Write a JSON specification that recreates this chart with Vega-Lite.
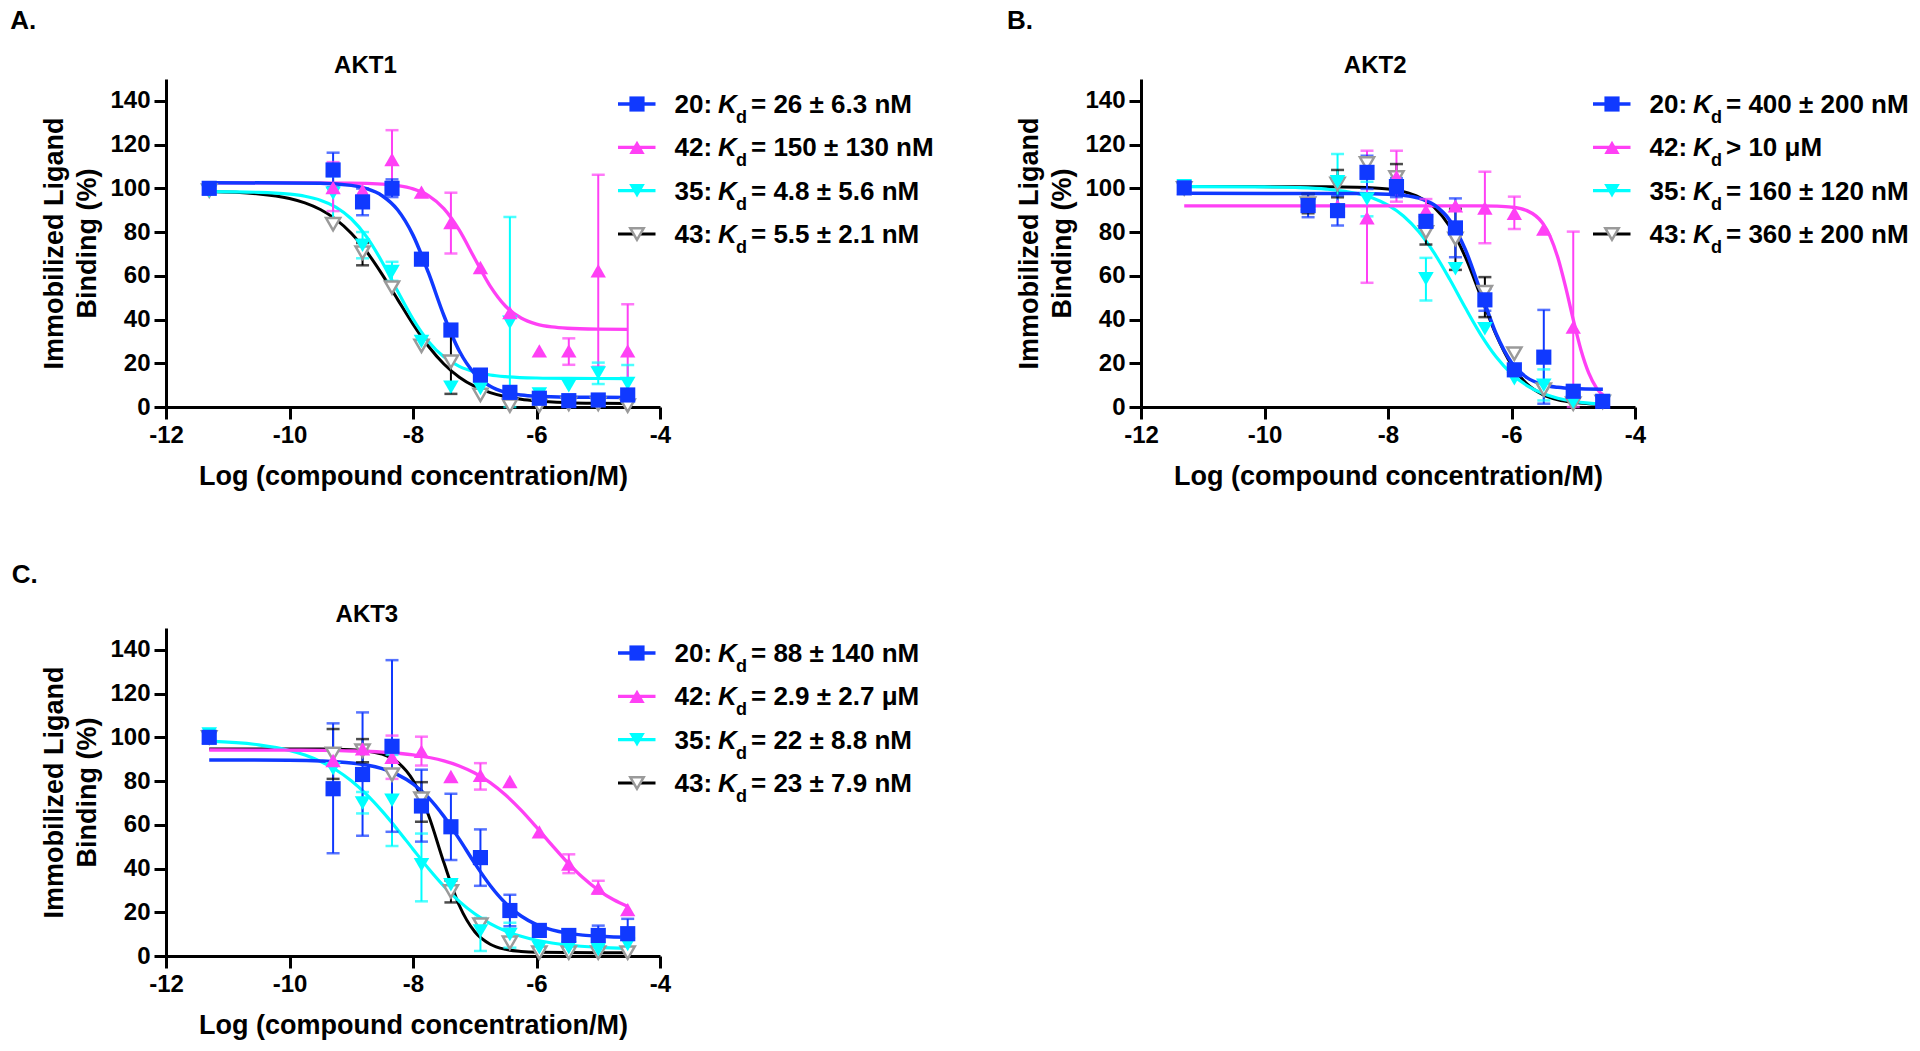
{
"$schema": "https://vega.github.io/schema/vega-lite/v6.json",
"background": "white",
"padding": {"left": 10, "top": 8, "right": 5, "bottom": 5},
"config": {
  "view": {"stroke": null},
  "axis": {"domainColor": "black", "domainWidth": 3, "tickColor": "black", "tickWidth": 3, "tickSize": 12, "labelFont": "Liberation Sans", "labelFontSize": 24, "labelFontWeight": "bold", "labelColor": "black", "labelPadding": 4, "labelFlush": false, "labelOverlap": false, "titleFont": "Liberation Sans", "titleFontSize": 27, "titleFontWeight": "bold", "titleColor": "black", "grid": false},
  "text": {"font": "Liberation Sans", "fontWeight": "bold", "color": "black"}
},
"datasets": {
"pts": [
{"p":"A","c":"43","x":-11.3,"y":99},{"p":"A","c":"43","x":-9.294,"y":83.6},{"p":"A","c":"43","x":-8.817,"y":70.6,"lo":64.8,"hi":75},{"p":"A","c":"43","x":-8.34,"y":54.6},{"p":"A","c":"43","x":-7.863,"y":28},{"p":"A","c":"43","x":-7.386,"y":20.7,"lo":6,"hi":33},{"p":"A","c":"43","x":-6.908,"y":5.5},{"p":"A","c":"43","x":-6.431,"y":0.6},{"p":"A","c":"43","x":-5.954,"y":0.6},{"p":"A","c":"43","x":-5.477,"y":1.4},{"p":"A","c":"43","x":-5.0,"y":1.4},{"p":"A","c":"43","x":-4.523,"y":0.6},
{"p":"A","c":"35","x":-11.3,"y":98.8},{"p":"A","c":"35","x":-9.294,"y":97.7,"lo":86.1,"hi":105.6},{"p":"A","c":"35","x":-8.817,"y":74,"lo":68,"hi":80},{"p":"A","c":"35","x":-8.34,"y":62,"lo":57.7,"hi":66.4},{"p":"A","c":"35","x":-7.863,"y":30},{"p":"A","c":"35","x":-7.386,"y":9},{"p":"A","c":"35","x":-6.908,"y":8.5},{"p":"A","c":"35","x":-6.431,"y":38.7,"lo":0,"hi":86.9},{"p":"A","c":"35","x":-5.954,"y":5.9},{"p":"A","c":"35","x":-5.477,"y":9.7},{"p":"A","c":"35","x":-5.0,"y":15.5,"lo":10.5,"hi":20.3},{"p":"A","c":"35","x":-4.523,"y":10.7,"lo":2.1,"hi":19.2},
{"p":"A","c":"42","x":-11.3,"y":100},{"p":"A","c":"42","x":-9.294,"y":100.3,"lo":89.6,"hi":112},{"p":"A","c":"42","x":-8.817,"y":99},{"p":"A","c":"42","x":-8.34,"y":113.2,"lo":99.8,"hi":126.6},{"p":"A","c":"42","x":-7.863,"y":98.3},{"p":"A","c":"42","x":-7.386,"y":84.3,"lo":70.2,"hi":98},{"p":"A","c":"42","x":-6.908,"y":63.8},{"p":"A","c":"42","x":-6.431,"y":43.2},{"p":"A","c":"42","x":-5.954,"y":25.7},{"p":"A","c":"42","x":-5.477,"y":25.7,"lo":19.3,"hi":31.4},{"p":"A","c":"42","x":-5.0,"y":62.3,"lo":18.4,"hi":106.2},{"p":"A","c":"42","x":-4.523,"y":25.7,"lo":4.4,"hi":47},
{"p":"A","c":"20","x":-11.3,"y":100},{"p":"A","c":"20","x":-9.294,"y":108.4,"lo":100.5,"hi":116.3},{"p":"A","c":"20","x":-8.817,"y":93.8,"lo":87.7,"hi":99.9},{"p":"A","c":"20","x":-8.34,"y":100,"lo":96,"hi":104.1},{"p":"A","c":"20","x":-7.863,"y":67.6},{"p":"A","c":"20","x":-7.386,"y":35.2},{"p":"A","c":"20","x":-6.908,"y":14.6},{"p":"A","c":"20","x":-6.431,"y":6.7},{"p":"A","c":"20","x":-5.954,"y":4.0},{"p":"A","c":"20","x":-5.477,"y":2.9},{"p":"A","c":"20","x":-5.0,"y":3.2},{"p":"A","c":"20","x":-4.523,"y":5.5},
{"p":"B","c":"43","x":-11.3,"y":100},{"p":"B","c":"43","x":-9.294,"y":93,"lo":88.6,"hi":97.4},{"p":"B","c":"43","x":-8.817,"y":102,"lo":95.9,"hi":108.4},{"p":"B","c":"43","x":-8.34,"y":111.4},{"p":"B","c":"43","x":-7.863,"y":105,"lo":98.9,"hi":111.1},{"p":"B","c":"43","x":-7.386,"y":79.9,"lo":74.3,"hi":85.5},{"p":"B","c":"43","x":-6.908,"y":76.9,"lo":62.7,"hi":90.6},{"p":"B","c":"43","x":-6.431,"y":52.5,"lo":41.1,"hi":59.4},{"p":"B","c":"43","x":-5.954,"y":24.4},{"p":"B","c":"43","x":-5.477,"y":8},{"p":"B","c":"43","x":-5.0,"y":1.5},{"p":"B","c":"43","x":-4.523,"y":2.3},
{"p":"B","c":"35","x":-11.3,"y":101.2},{"p":"B","c":"35","x":-9.294,"y":92},{"p":"B","c":"35","x":-8.817,"y":103,"lo":90.6,"hi":115.7},{"p":"B","c":"35","x":-8.34,"y":95.1,"lo":87.2,"hi":103},{"p":"B","c":"35","x":-7.863,"y":101},{"p":"B","c":"35","x":-7.386,"y":58.6,"lo":48.7,"hi":68.2},{"p":"B","c":"35","x":-6.908,"y":63.2},{"p":"B","c":"35","x":-6.431,"y":35.8},{"p":"B","c":"35","x":-5.954,"y":12.9},{"p":"B","c":"35","x":-5.477,"y":10,"lo":3,"hi":17.2},{"p":"B","c":"35","x":-5.0,"y":2.3},{"p":"B","c":"35","x":-4.523,"y":2.3},
{"p":"B","c":"42","x":-11.3,"y":100},{"p":"B","c":"42","x":-9.294,"y":93},{"p":"B","c":"42","x":-8.817,"y":92},{"p":"B","c":"42","x":-8.34,"y":86.5,"lo":56.8,"hi":117.2},{"p":"B","c":"42","x":-7.863,"y":105.3,"lo":93.9,"hi":117.2},{"p":"B","c":"42","x":-7.386,"y":89.8,"lo":85,"hi":95.1},{"p":"B","c":"42","x":-6.908,"y":92},{"p":"B","c":"42","x":-6.431,"y":91,"lo":74.9,"hi":107.6},{"p":"B","c":"42","x":-5.954,"y":88.6,"lo":81.4,"hi":96.2},{"p":"B","c":"42","x":-5.477,"y":81.4},{"p":"B","c":"42","x":-5.0,"y":36.5,"lo":0,"hi":80.2},{"p":"B","c":"42","x":-4.523,"y":3.8},
{"p":"B","c":"20","x":-11.3,"y":100.2},{"p":"B","c":"20","x":-9.294,"y":92.1,"lo":86.8,"hi":97.4},{"p":"B","c":"20","x":-8.817,"y":89.8,"lo":83,"hi":96.7},{"p":"B","c":"20","x":-8.34,"y":107.3,"lo":99.7,"hi":114.9},{"p":"B","c":"20","x":-7.863,"y":100.8,"lo":96,"hi":104.7},{"p":"B","c":"20","x":-7.386,"y":84.9},{"p":"B","c":"20","x":-6.908,"y":81.9,"lo":68.5,"hi":95.4},{"p":"B","c":"20","x":-6.431,"y":49,"lo":44,"hi":54},{"p":"B","c":"20","x":-5.954,"y":17},{"p":"B","c":"20","x":-5.477,"y":22.8,"lo":1.5,"hi":44.4},{"p":"B","c":"20","x":-5.0,"y":7.2},{"p":"B","c":"20","x":-4.523,"y":2.6},
{"p":"C","c":"43","x":-11.3,"y":100},{"p":"C","c":"43","x":-9.294,"y":92.4,"lo":81,"hi":103.8},{"p":"C","c":"43","x":-8.817,"y":93.9,"lo":88.6,"hi":99.2},{"p":"C","c":"43","x":-8.34,"y":83},{"p":"C","c":"43","x":-7.863,"y":72,"lo":61.4,"hi":79.5},{"p":"C","c":"43","x":-7.386,"y":29.5,"lo":24.5,"hi":34.5},{"p":"C","c":"43","x":-6.908,"y":14.4},{"p":"C","c":"43","x":-6.431,"y":6.1},{"p":"C","c":"43","x":-5.954,"y":1.5},{"p":"C","c":"43","x":-5.477,"y":1.5},{"p":"C","c":"43","x":-5.0,"y":1.5},{"p":"C","c":"43","x":-4.523,"y":1.5},
{"p":"C","c":"35","x":-11.3,"y":101.5},{"p":"C","c":"35","x":-9.294,"y":85.6},{"p":"C","c":"35","x":-8.817,"y":70,"lo":65.2,"hi":75},{"p":"C","c":"35","x":-8.34,"y":71.2,"lo":50.3,"hi":92},{"p":"C","c":"35","x":-7.863,"y":41.7,"lo":25,"hi":56},{"p":"C","c":"35","x":-7.386,"y":32.6},{"p":"C","c":"35","x":-6.908,"y":11.4,"lo":2.3,"hi":17.4},{"p":"C","c":"35","x":-6.431,"y":9.8,"lo":3.8,"hi":15.2},{"p":"C","c":"35","x":-5.954,"y":3.8},{"p":"C","c":"35","x":-5.477,"y":3.8},{"p":"C","c":"35","x":-5.0,"y":3},{"p":"C","c":"35","x":-4.523,"y":5.3},
{"p":"C","c":"42","x":-11.3,"y":100},{"p":"C","c":"42","x":-9.294,"y":89.4},{"p":"C","c":"42","x":-8.817,"y":94.7},{"p":"C","c":"42","x":-8.34,"y":90.9,"lo":81,"hi":100.8},{"p":"C","c":"42","x":-7.863,"y":93.6,"lo":87.1,"hi":100.3},{"p":"C","c":"42","x":-7.386,"y":82.1},{"p":"C","c":"42","x":-6.908,"y":82.6,"lo":76.1,"hi":88.2},{"p":"C","c":"42","x":-6.431,"y":79.8},{"p":"C","c":"42","x":-5.954,"y":56.8},{"p":"C","c":"42","x":-5.477,"y":42,"lo":37.9,"hi":46.5},{"p":"C","c":"42","x":-5.0,"y":31,"lo":28.5,"hi":34.4},{"p":"C","c":"42","x":-4.523,"y":21.2},
{"p":"C","c":"20","x":-11.3,"y":100},{"p":"C","c":"20","x":-9.294,"y":76.5,"lo":47,"hi":106.4},{"p":"C","c":"20","x":-8.817,"y":83,"lo":55,"hi":111.4},{"p":"C","c":"20","x":-8.34,"y":95.9,"lo":56.8,"hi":135.3},{"p":"C","c":"20","x":-7.863,"y":68.6,"lo":52.3,"hi":85.2},{"p":"C","c":"20","x":-7.386,"y":59.1,"lo":43.9,"hi":74.2},{"p":"C","c":"20","x":-6.908,"y":45,"lo":32.1,"hi":57.9},{"p":"C","c":"20","x":-6.431,"y":20.8,"lo":13.6,"hi":28},{"p":"C","c":"20","x":-5.954,"y":11.7,"lo":9.1,"hi":14.4},{"p":"C","c":"20","x":-5.477,"y":9.4},{"p":"C","c":"20","x":-5.0,"y":9.4,"lo":5.3,"hi":13.9},{"p":"C","c":"20","x":-4.523,"y":10.2,"lo":3.8,"hi":17}
],
"fit": [
{"p":"A","c":"43","x":-11.3,"y":98.5},{"p":"A","c":"43","x":-10.5,"y":97.45},{"p":"A","c":"43","x":-10,"y":95.36},{"p":"A","c":"43","x":-9.75,"y":93.36},{"p":"A","c":"43","x":-9.5,"y":90.33},{"p":"A","c":"43","x":-9.25,"y":85.83},{"p":"A","c":"43","x":-9,"y":79.49},{"p":"A","c":"43","x":-8.75,"y":71.0},{"p":"A","c":"43","x":-8.5,"y":60.68},{"p":"A","c":"43","x":-8.25,"y":49.23},{"p":"A","c":"43","x":-8,"y":37.87},{"p":"A","c":"43","x":-7.75,"y":27.77},{"p":"A","c":"43","x":-7.5,"y":19.67},{"p":"A","c":"43","x":-7.25,"y":13.62},{"p":"A","c":"43","x":-7,"y":9.4},{"p":"A","c":"43","x":-6.75,"y":6.55},{"p":"A","c":"43","x":-6.5,"y":4.7},{"p":"A","c":"43","x":-6.25,"y":3.5},{"p":"A","c":"43","x":-6,"y":2.75},{"p":"A","c":"43","x":-5.5,"y":1.99},{"p":"A","c":"43","x":-5,"y":1.69},{"p":"A","c":"43","x":-4.52,"y":1.57},
{"p":"A","c":"35","x":-11.3,"y":98.46},{"p":"A","c":"35","x":-10.5,"y":98.18},{"p":"A","c":"35","x":-10,"y":97.36},{"p":"A","c":"35","x":-9.75,"y":96.38},{"p":"A","c":"35","x":-9.5,"y":94.59},{"p":"A","c":"35","x":-9.25,"y":91.43},{"p":"A","c":"35","x":-9,"y":86.09},{"p":"A","c":"35","x":-8.75,"y":77.77},{"p":"A","c":"35","x":-8.5,"y":66.35},{"p":"A","c":"35","x":-8.25,"y":53.05},{"p":"A","c":"35","x":-8,"y":40.25},{"p":"A","c":"35","x":-7.75,"y":30.01},{"p":"A","c":"35","x":-7.5,"y":22.96},{"p":"A","c":"35","x":-7.25,"y":18.59},{"p":"A","c":"35","x":-7,"y":16.06},{"p":"A","c":"35","x":-6.75,"y":14.65},{"p":"A","c":"35","x":-6.5,"y":13.89},{"p":"A","c":"35","x":-6,"y":13.25},{"p":"A","c":"35","x":-5.5,"y":13.07},{"p":"A","c":"35","x":-4.52,"y":13.0},
{"p":"A","c":"42","x":-11.3,"y":102.5},{"p":"A","c":"42","x":-9,"y":102.39},{"p":"A","c":"42","x":-8.5,"y":101.94},{"p":"A","c":"42","x":-8.25,"y":101.25},{"p":"A","c":"42","x":-8,"y":99.77},{"p":"A","c":"42","x":-7.75,"y":96.68},{"p":"A","c":"42","x":-7.5,"y":90.74},{"p":"A","c":"42","x":-7.25,"y":80.88},{"p":"A","c":"42","x":-7,"y":67.92},{"p":"A","c":"42","x":-6.75,"y":55.28},{"p":"A","c":"42","x":-6.5,"y":46.06},{"p":"A","c":"42","x":-6.25,"y":40.67},{"p":"A","c":"42","x":-6,"y":37.91},{"p":"A","c":"42","x":-5.75,"y":36.6},{"p":"A","c":"42","x":-5.5,"y":36.0},{"p":"A","c":"42","x":-5,"y":35.6},{"p":"A","c":"42","x":-4.52,"y":35.5},
{"p":"A","c":"20","x":-11.3,"y":102.6},{"p":"A","c":"20","x":-9.5,"y":102.35},{"p":"A","c":"20","x":-9,"y":101.35},{"p":"A","c":"20","x":-8.75,"y":99.85},{"p":"A","c":"20","x":-8.5,"y":96.64},{"p":"A","c":"20","x":-8.25,"y":90.2},{"p":"A","c":"20","x":-8,"y":78.6},{"p":"A","c":"20","x":-7.75,"y":61.4},{"p":"A","c":"20","x":-7.5,"y":41.85},{"p":"A","c":"20","x":-7.25,"y":25.6},{"p":"A","c":"20","x":-7,"y":15.16},{"p":"A","c":"20","x":-6.75,"y":9.51},{"p":"A","c":"20","x":-6.5,"y":6.76},{"p":"A","c":"20","x":-6.25,"y":5.47},{"p":"A","c":"20","x":-6,"y":4.88},{"p":"A","c":"20","x":-5.5,"y":4.5},{"p":"A","c":"20","x":-4.52,"y":4.4},
{"p":"B","c":"43","x":-11.3,"y":100.8},{"p":"B","c":"43","x":-9,"y":100.74},{"p":"B","c":"43","x":-8.5,"y":100.55},{"p":"B","c":"43","x":-8,"y":99.69},{"p":"B","c":"43","x":-7.75,"y":98.49},{"p":"B","c":"43","x":-7.5,"y":96.04},{"p":"B","c":"43","x":-7.25,"y":91.24},{"p":"B","c":"43","x":-7,"y":82.54},{"p":"B","c":"43","x":-6.75,"y":68.74},{"p":"B","c":"43","x":-6.5,"y":50.9},{"p":"B","c":"43","x":-6.25,"y":33.06},{"p":"B","c":"43","x":-6,"y":19.26},{"p":"B","c":"43","x":-5.75,"y":10.56},{"p":"B","c":"43","x":-5.5,"y":5.76},{"p":"B","c":"43","x":-5.25,"y":3.31},{"p":"B","c":"43","x":-5,"y":2.11},{"p":"B","c":"43","x":-4.75,"y":1.53},{"p":"B","c":"43","x":-4.52,"y":1.27},
{"p":"B","c":"35","x":-11.3,"y":100.79},{"p":"B","c":"35","x":-10,"y":100.65},{"p":"B","c":"35","x":-9.5,"y":100.39},{"p":"B","c":"35","x":-9,"y":99.65},{"p":"B","c":"35","x":-8.5,"y":97.62},{"p":"B","c":"35","x":-8.25,"y":95.57},{"p":"B","c":"35","x":-8,"y":92.32},{"p":"B","c":"35","x":-7.75,"y":87.35},{"p":"B","c":"35","x":-7.5,"y":80.1},{"p":"B","c":"35","x":-7.25,"y":70.32},{"p":"B","c":"35","x":-7,"y":58.38},{"p":"B","c":"35","x":-6.75,"y":45.47},{"p":"B","c":"35","x":-6.5,"y":33.23},{"p":"B","c":"35","x":-6.25,"y":22.96},{"p":"B","c":"35","x":-6,"y":15.2},{"p":"B","c":"35","x":-5.75,"y":9.81},{"p":"B","c":"35","x":-5.5,"y":6.26},{"p":"B","c":"35","x":-5.25,"y":4.01},{"p":"B","c":"35","x":-5,"y":2.62},{"p":"B","c":"35","x":-4.75,"y":1.77},{"p":"B","c":"35","x":-4.52,"y":1.29},
{"p":"B","c":"42","x":-11.3,"y":92},{"p":"B","c":"42","x":-6.5,"y":91.96},{"p":"B","c":"42","x":-6.25,"y":91.84},{"p":"B","c":"42","x":-6,"y":91.4},{"p":"B","c":"42","x":-5.75,"y":89.8},{"p":"B","c":"42","x":-5.5,"y":84.23},{"p":"B","c":"42","x":-5.375,"y":78.04},{"p":"B","c":"42","x":-5.25,"y":68.32},{"p":"B","c":"42","x":-5.125,"y":55.02},{"p":"B","c":"42","x":-5,"y":39.95},{"p":"B","c":"42","x":-4.875,"y":26.08},{"p":"B","c":"42","x":-4.75,"y":15.6},{"p":"B","c":"42","x":-4.625,"y":8.77},{"p":"B","c":"42","x":-4.52,"y":5.24},
{"p":"B","c":"20","x":-11.3,"y":97.7},{"p":"B","c":"20","x":-8.5,"y":97.64},{"p":"B","c":"20","x":-8,"y":97.34},{"p":"B","c":"20","x":-7.75,"y":96.81},{"p":"B","c":"20","x":-7.5,"y":95.5},{"p":"B","c":"20","x":-7.25,"y":92.39},{"p":"B","c":"20","x":-7,"y":85.44},{"p":"B","c":"20","x":-6.75,"y":72.19},{"p":"B","c":"20","x":-6.5,"y":52.9},{"p":"B","c":"20","x":-6.25,"y":33.61},{"p":"B","c":"20","x":-6,"y":20.36},{"p":"B","c":"20","x":-5.75,"y":13.42},{"p":"B","c":"20","x":-5.5,"y":10.3},{"p":"B","c":"20","x":-5.25,"y":8.99},{"p":"B","c":"20","x":-5,"y":8.46},{"p":"B","c":"20","x":-4.52,"y":8.15},
{"p":"C","c":"43","x":-11.3,"y":94.7},{"p":"C","c":"43","x":-9.5,"y":94.65},{"p":"C","c":"43","x":-9,"y":94.35},{"p":"C","c":"43","x":-8.75,"y":93.78},{"p":"C","c":"43","x":-8.5,"y":92.31},{"p":"C","c":"43","x":-8.25,"y":88.66},{"p":"C","c":"43","x":-8,"y":80.32},{"p":"C","c":"43","x":-7.75,"y":64.48},{"p":"C","c":"43","x":-7.5,"y":42.72},{"p":"C","c":"43","x":-7.25,"y":23.09},{"p":"C","c":"43","x":-7,"y":11.08},{"p":"C","c":"43","x":-6.75,"y":5.39},{"p":"C","c":"43","x":-6.5,"y":3.02},{"p":"C","c":"43","x":-6.25,"y":2.09},{"p":"C","c":"43","x":-6,"y":1.72},{"p":"C","c":"43","x":-5,"y":1.5},{"p":"C","c":"43","x":-4.52,"y":1.5},
{"p":"C","c":"35","x":-11.3,"y":98.25},{"p":"C","c":"35","x":-10.5,"y":96.57},{"p":"C","c":"35","x":-10,"y":94.01},{"p":"C","c":"35","x":-9.75,"y":91.92},{"p":"C","c":"35","x":-9.5,"y":89.03},{"p":"C","c":"35","x":-9.25,"y":85.17},{"p":"C","c":"35","x":-9,"y":80.12},{"p":"C","c":"35","x":-8.75,"y":73.8},{"p":"C","c":"35","x":-8.5,"y":66.25},{"p":"C","c":"35","x":-8.25,"y":57.79},{"p":"C","c":"35","x":-8,"y":48.85},{"p":"C","c":"35","x":-7.75,"y":40.05},{"p":"C","c":"35","x":-7.5,"y":31.98},{"p":"C","c":"35","x":-7.25,"y":25.01},{"p":"C","c":"35","x":-7,"y":19.31},{"p":"C","c":"35","x":-6.75,"y":14.85},{"p":"C","c":"35","x":-6.5,"y":11.47},{"p":"C","c":"35","x":-6.25,"y":8.99},{"p":"C","c":"35","x":-6,"y":7.2},{"p":"C","c":"35","x":-5.75,"y":5.94},{"p":"C","c":"35","x":-5.5,"y":5.04},{"p":"C","c":"35","x":-5,"y":3.98},{"p":"C","c":"35","x":-4.52,"y":3.48},
{"p":"C","c":"42","x":-11.3,"y":94.19},{"p":"C","c":"42","x":-10,"y":94.12},{"p":"C","c":"42","x":-9.5,"y":94.01},{"p":"C","c":"42","x":-9,"y":93.76},{"p":"C","c":"42","x":-8.5,"y":93.2},{"p":"C","c":"42","x":-8,"y":91.95},{"p":"C","c":"42","x":-7.5,"y":89.23},{"p":"C","c":"42","x":-7.25,"y":86.91},{"p":"C","c":"42","x":-7,"y":83.66},{"p":"C","c":"42","x":-6.75,"y":79.27},{"p":"C","c":"42","x":-6.5,"y":73.59},{"p":"C","c":"42","x":-6.25,"y":66.69},{"p":"C","c":"42","x":-6,"y":58.87},{"p":"C","c":"42","x":-5.75,"y":50.68},{"p":"C","c":"42","x":-5.5,"y":42.83},{"p":"C","c":"42","x":-5.25,"y":35.87},{"p":"C","c":"42","x":-5,"y":30.14},{"p":"C","c":"42","x":-4.75,"y":25.7},{"p":"C","c":"42","x":-4.52,"y":22.63},
{"p":"C","c":"20","x":-11.3,"y":89.69},{"p":"C","c":"20","x":-10,"y":89.54},{"p":"C","c":"20","x":-9.5,"y":89.23},{"p":"C","c":"20","x":-9,"y":88.3},{"p":"C","c":"20","x":-8.75,"y":87.31},{"p":"C","c":"20","x":-8.5,"y":85.66},{"p":"C","c":"20","x":-8.25,"y":82.97},{"p":"C","c":"20","x":-8,"y":78.73},{"p":"C","c":"20","x":-7.75,"y":72.43},{"p":"C","c":"20","x":-7.5,"y":63.86},{"p":"C","c":"20","x":-7.25,"y":53.44},{"p":"C","c":"20","x":-7,"y":42.39},{"p":"C","c":"20","x":-6.75,"y":32.25},{"p":"C","c":"20","x":-6.5,"y":24.12},{"p":"C","c":"20","x":-6.25,"y":18.27},{"p":"C","c":"20","x":-6,"y":14.38},{"p":"C","c":"20","x":-5.75,"y":11.94},{"p":"C","c":"20","x":-5.5,"y":10.45},{"p":"C","c":"20","x":-5.25,"y":9.55},{"p":"C","c":"20","x":-5,"y":9.03},{"p":"C","c":"20","x":-4.75,"y":8.72},{"p":"C","c":"20","x":-4.52,"y":8.56}
],
"leg": [
{"p":"A","c":"20","n":"20:","t":"= 26 ± 6.3 nM"},{"p":"A","c":"42","n":"42:","t":"= 150 ± 130 nM"},{"p":"A","c":"35","n":"35:","t":"= 4.8 ± 5.6 nM"},{"p":"A","c":"43","n":"43:","t":"= 5.5 ± 2.1 nM"},
{"p":"B","c":"20","n":"20:","t":"= 400 ± 200 nM"},{"p":"B","c":"42","n":"42:","t":"> 10 μM"},{"p":"B","c":"35","n":"35:","t":"= 160 ± 120 nM"},{"p":"B","c":"43","n":"43:","t":"= 360 ± 200 nM"},
{"p":"C","c":"20","n":"20:","t":"= 88 ± 140 nM"},{"p":"C","c":"42","n":"42:","t":" = 2.9 ± 2.7 μM"},{"p":"C","c":"35","n":"35:","t":"= 22 ± 8.8 nM"},{"p":"C","c":"43","n":"43:","t":"= 23 ± 7.9 nM"}
]
},
"bounds": "flush",
"spacing": 549,
"vconcat": [
{"hconcat": [
{"width": 494, "height": 328,
 "layer": [
  {"data": {"name": "fit"}, "transform": [{"filter": "datum.p=='A'"}], "mark": {"type": "line", "interpolate": "monotone"},
   "encoding": {"x": {"field": "x", "type": "quantitative", "scale": {"domain": [-12, -4], "nice": false, "zero": false}, "axis": {"values": [-12, -10, -8, -6, -4], "labelExpr": "''+datum.value", "title": "Log (compound concentration/M)", "titlePadding": 16}},
    "y": {"field": "y", "type": "quantitative", "scale": {"domain": [0, 150], "nice": false}, "axis": {"values": [0, 20, 40, 60, 80, 100, 120, 140], "title": ["Immobilized Ligand", "Binding (%)"], "titlePadding": 8, "titleLineHeight": 33}},
    "color": {"field": "c", "type": "nominal", "scale": {"domain": ["20", "42", "35", "43"], "range": ["#1039ff", "#ff40f5", "#00ffff", "#000000"]}, "legend": null},
    "strokeWidth": {"field": "c", "type": "ordinal", "scale": {"domain": ["20", "42", "35", "43"], "range": [3.5, 3, 5, 1.5]}, "legend": null}}},
  {"data": {"name": "pts"}, "transform": [{"filter": "datum.p=='A' && isValid(datum.lo)"}], "mark": {"type": "rule", "strokeWidth": 2},
   "encoding": {"x": {"field": "x", "type": "quantitative"}, "y": {"field": "lo", "type": "quantitative"}, "y2": {"field": "hi"}, "color": {"field": "c", "type": "nominal", "legend": null}}},
  {"data": {"name": "pts"}, "transform": [{"filter": "datum.p=='A' && isValid(datum.lo)"}], "mark": {"type": "tick", "orient": "horizontal", "size": 13, "thickness": 2.5},
   "encoding": {"x": {"field": "x", "type": "quantitative"}, "y": {"field": "lo", "type": "quantitative"}, "color": {"field": "c", "type": "nominal", "legend": null}}},
  {"data": {"name": "pts"}, "transform": [{"filter": "datum.p=='A' && isValid(datum.hi)"}], "mark": {"type": "tick", "orient": "horizontal", "size": 13, "thickness": 2.5},
   "encoding": {"x": {"field": "x", "type": "quantitative"}, "y": {"field": "hi", "type": "quantitative"}, "color": {"field": "c", "type": "nominal", "legend": null}}},
  {"data": {"name": "pts"}, "transform": [{"filter": "datum.p=='A' && datum.c=='43'"}], "mark": {"type": "point", "shape": "triangle-down", "size": 200, "filled": true, "fill": "white", "stroke": "#9a9a9a", "strokeWidth": 2.5, "opacity": 1},
   "encoding": {"x": {"field": "x", "type": "quantitative"}, "y": {"field": "y", "type": "quantitative"}}},
  {"data": {"name": "pts"}, "transform": [{"filter": "datum.p=='A' && datum.c!='43'"}], "mark": {"type": "point", "filled": true, "opacity": 1},
   "encoding": {"x": {"field": "x", "type": "quantitative"}, "y": {"field": "y", "type": "quantitative"}, "color": {"field": "c", "type": "nominal", "legend": null},
    "shape": {"field": "c", "type": "nominal", "scale": {"domain": ["20", "42", "35", "43"], "range": ["square", "triangle-up", "triangle-down", "triangle-down"]}, "legend": null},
    "size": {"field": "c", "type": "ordinal", "scale": {"domain": ["20", "42", "35", "43"], "range": [230, 250, 290, 200]}, "legend": null}}},
  {"data": {"values": [{"t": "A."}]}, "mark": {"type": "text", "align": "left", "baseline": "middle", "fontSize": 26},
   "encoding": {"x": {"datum": -14.523, "type": "quantitative"}, "y": {"datum": 176.5, "type": "quantitative"}, "text": {"field": "t"}}},
  {"data": {"values": [{"t": "AKT1"}]}, "mark": {"type": "text", "align": "center", "baseline": "middle", "fontSize": 24},
   "encoding": {"x": {"datum": -8.77, "type": "quantitative"}, "y": {"datum": 155.8, "type": "quantitative"}, "text": {"field": "t"}}}
 ]},
{"width": 481, "height": 180, "data": {"name": "leg"}, "transform": [{"filter": "datum.p=='A'"}],
 "encoding": {"y": {"field": "c", "type": "nominal", "scale": {"type": "point", "domain": ["20", "42", "35", "43"], "padding": 0.577}, "axis": null}},
 "layer": [
  {"mark": {"type": "rule"}, "encoding": {"x": {"datum": -42, "type": "quantitative", "scale": {"domain": [0, 481], "nice": false, "zero": false}, "axis": null}, "x2": {"datum": -4.5},
    "color": {"field": "c", "type": "nominal", "scale": {"domain": ["20", "42", "35", "43"], "range": ["#1039ff", "#ff40f5", "#00ffff", "#000000"]}, "legend": null},
    "strokeWidth": {"field": "c", "type": "ordinal", "scale": {"domain": ["20", "42", "35", "43"], "range": [3.5, 3, 5, 1.5]}, "legend": null}}},
  {"transform": [{"filter": "datum.c!='43'"}], "mark": {"type": "point", "filled": true, "opacity": 1},
   "encoding": {"x": {"datum": -23, "type": "quantitative"}, "color": {"field": "c", "type": "nominal", "legend": null},
    "shape": {"field": "c", "type": "nominal", "scale": {"domain": ["20", "42", "35", "43"], "range": ["square", "triangle-up", "triangle-down", "triangle-down"]}, "legend": null},
    "size": {"field": "c", "type": "ordinal", "scale": {"domain": ["20", "42", "35", "43"], "range": [200, 220, 250, 180]}, "legend": null}}},
  {"transform": [{"filter": "datum.c=='43'"}], "mark": {"type": "point", "shape": "triangle-down", "size": 180, "filled": true, "fill": "white", "stroke": "#9a9a9a", "strokeWidth": 2.5, "opacity": 1},
   "encoding": {"x": {"datum": -23, "type": "quantitative"}}},
  {"mark": {"type": "text", "align": "left", "baseline": "alphabetic", "dy": 9, "fontSize": 26}, "encoding": {"x": {"datum": 14.5, "type": "quantitative"}, "text": {"field": "n"}}},
  {"mark": {"type": "text", "align": "left", "baseline": "alphabetic", "dy": 9, "fontSize": 26, "fontStyle": "italic", "text": "K"}, "encoding": {"x": {"datum": 58, "type": "quantitative"}}},
  {"mark": {"type": "text", "align": "left", "baseline": "alphabetic", "dy": 19, "fontSize": 18, "text": "d"}, "encoding": {"x": {"datum": 76, "type": "quantitative"}}},
  {"mark": {"type": "text", "align": "left", "baseline": "alphabetic", "dy": 9, "fontSize": 26}, "encoding": {"x": {"datum": 91, "type": "quantitative"}, "text": {"field": "t"}}}
 ]},
{"width": 494, "height": 328,
 "layer": [
  {"data": {"name": "fit"}, "transform": [{"filter": "datum.p=='B'"}], "mark": {"type": "line", "interpolate": "monotone"},
   "encoding": {"x": {"field": "x", "type": "quantitative", "scale": {"domain": [-12, -4], "nice": false, "zero": false}, "axis": {"values": [-12, -10, -8, -6, -4], "labelExpr": "''+datum.value", "title": "Log (compound concentration/M)", "titlePadding": 16}},
    "y": {"field": "y", "type": "quantitative", "scale": {"domain": [0, 150], "nice": false}, "axis": {"values": [0, 20, 40, 60, 80, 100, 120, 140], "title": ["Immobilized Ligand", "Binding (%)"], "titlePadding": 8, "titleLineHeight": 33}},
    "color": {"field": "c", "type": "nominal", "scale": {"domain": ["20", "42", "35", "43"], "range": ["#1039ff", "#ff40f5", "#00ffff", "#000000"]}, "legend": null},
    "strokeWidth": {"field": "c", "type": "ordinal", "scale": {"domain": ["20", "42", "35", "43"], "range": [3.5, 3, 5, 1.5]}, "legend": null}}},
  {"data": {"name": "pts"}, "transform": [{"filter": "datum.p=='B' && isValid(datum.lo)"}], "mark": {"type": "rule", "strokeWidth": 2},
   "encoding": {"x": {"field": "x", "type": "quantitative"}, "y": {"field": "lo", "type": "quantitative"}, "y2": {"field": "hi"}, "color": {"field": "c", "type": "nominal", "legend": null}}},
  {"data": {"name": "pts"}, "transform": [{"filter": "datum.p=='B' && isValid(datum.lo)"}], "mark": {"type": "tick", "orient": "horizontal", "size": 13, "thickness": 2.5},
   "encoding": {"x": {"field": "x", "type": "quantitative"}, "y": {"field": "lo", "type": "quantitative"}, "color": {"field": "c", "type": "nominal", "legend": null}}},
  {"data": {"name": "pts"}, "transform": [{"filter": "datum.p=='B' && isValid(datum.hi)"}], "mark": {"type": "tick", "orient": "horizontal", "size": 13, "thickness": 2.5},
   "encoding": {"x": {"field": "x", "type": "quantitative"}, "y": {"field": "hi", "type": "quantitative"}, "color": {"field": "c", "type": "nominal", "legend": null}}},
  {"data": {"name": "pts"}, "transform": [{"filter": "datum.p=='B' && datum.c=='43'"}], "mark": {"type": "point", "shape": "triangle-down", "size": 200, "filled": true, "fill": "white", "stroke": "#9a9a9a", "strokeWidth": 2.5, "opacity": 1},
   "encoding": {"x": {"field": "x", "type": "quantitative"}, "y": {"field": "y", "type": "quantitative"}}},
  {"data": {"name": "pts"}, "transform": [{"filter": "datum.p=='B' && datum.c!='43'"}], "mark": {"type": "point", "filled": true, "opacity": 1},
   "encoding": {"x": {"field": "x", "type": "quantitative"}, "y": {"field": "y", "type": "quantitative"}, "color": {"field": "c", "type": "nominal", "legend": null},
    "shape": {"field": "c", "type": "nominal", "scale": {"domain": ["20", "42", "35", "43"], "range": ["square", "triangle-up", "triangle-down", "triangle-down"]}, "legend": null},
    "size": {"field": "c", "type": "ordinal", "scale": {"domain": ["20", "42", "35", "43"], "range": [230, 250, 290, 200]}, "legend": null}}},
  {"data": {"values": [{"t": "B."}]}, "mark": {"type": "text", "align": "left", "baseline": "middle", "fontSize": 26},
   "encoding": {"x": {"datum": -14.172, "type": "quantitative"}, "y": {"datum": 176.5, "type": "quantitative"}, "text": {"field": "t"}}},
  {"data": {"values": [{"t": "AKT2"}]}, "mark": {"type": "text", "align": "center", "baseline": "middle", "fontSize": 24},
   "encoding": {"x": {"datum": -8.208, "type": "quantitative"}, "y": {"datum": 155.8, "type": "quantitative"}, "text": {"field": "t"}}}
 ]},
{"width": 280, "height": 180, "data": {"name": "leg"}, "transform": [{"filter": "datum.p=='B'"}],
 "encoding": {"y": {"field": "c", "type": "nominal", "scale": {"type": "point", "domain": ["20", "42", "35", "43"], "padding": 0.577}, "axis": null}},
 "layer": [
  {"mark": {"type": "rule"}, "encoding": {"x": {"datum": -42, "type": "quantitative", "scale": {"domain": [0, 280], "nice": false, "zero": false}, "axis": null}, "x2": {"datum": -4.5},
    "color": {"field": "c", "type": "nominal", "scale": {"domain": ["20", "42", "35", "43"], "range": ["#1039ff", "#ff40f5", "#00ffff", "#000000"]}, "legend": null},
    "strokeWidth": {"field": "c", "type": "ordinal", "scale": {"domain": ["20", "42", "35", "43"], "range": [3.5, 3, 5, 1.5]}, "legend": null}}},
  {"transform": [{"filter": "datum.c!='43'"}], "mark": {"type": "point", "filled": true, "opacity": 1},
   "encoding": {"x": {"datum": -23, "type": "quantitative"}, "color": {"field": "c", "type": "nominal", "legend": null},
    "shape": {"field": "c", "type": "nominal", "scale": {"domain": ["20", "42", "35", "43"], "range": ["square", "triangle-up", "triangle-down", "triangle-down"]}, "legend": null},
    "size": {"field": "c", "type": "ordinal", "scale": {"domain": ["20", "42", "35", "43"], "range": [200, 220, 250, 180]}, "legend": null}}},
  {"transform": [{"filter": "datum.c=='43'"}], "mark": {"type": "point", "shape": "triangle-down", "size": 180, "filled": true, "fill": "white", "stroke": "#9a9a9a", "strokeWidth": 2.5, "opacity": 1},
   "encoding": {"x": {"datum": -23, "type": "quantitative"}}},
  {"mark": {"type": "text", "align": "left", "baseline": "alphabetic", "dy": 9, "fontSize": 26}, "encoding": {"x": {"datum": 14.5, "type": "quantitative"}, "text": {"field": "n"}}},
  {"mark": {"type": "text", "align": "left", "baseline": "alphabetic", "dy": 9, "fontSize": 26, "fontStyle": "italic", "text": "K"}, "encoding": {"x": {"datum": 58, "type": "quantitative"}}},
  {"mark": {"type": "text", "align": "left", "baseline": "alphabetic", "dy": 19, "fontSize": 18, "text": "d"}, "encoding": {"x": {"datum": 76, "type": "quantitative"}}},
  {"mark": {"type": "text", "align": "left", "baseline": "alphabetic", "dy": 9, "fontSize": 26}, "encoding": {"x": {"datum": 91, "type": "quantitative"}, "text": {"field": "t"}}}
 ]}
], "spacing": 0, "bounds": "flush"},
{"hconcat": [
{"width": 494, "height": 328,
 "layer": [
  {"data": {"name": "fit"}, "transform": [{"filter": "datum.p=='C'"}], "mark": {"type": "line", "interpolate": "monotone"},
   "encoding": {"x": {"field": "x", "type": "quantitative", "scale": {"domain": [-12, -4], "nice": false, "zero": false}, "axis": {"values": [-12, -10, -8, -6, -4], "labelExpr": "''+datum.value", "title": "Log (compound concentration/M)", "titlePadding": 16}},
    "y": {"field": "y", "type": "quantitative", "scale": {"domain": [0, 150], "nice": false}, "axis": {"values": [0, 20, 40, 60, 80, 100, 120, 140], "title": ["Immobilized Ligand", "Binding (%)"], "titlePadding": 8, "titleLineHeight": 33}},
    "color": {"field": "c", "type": "nominal", "scale": {"domain": ["20", "42", "35", "43"], "range": ["#1039ff", "#ff40f5", "#00ffff", "#000000"]}, "legend": null},
    "strokeWidth": {"field": "c", "type": "ordinal", "scale": {"domain": ["20", "42", "35", "43"], "range": [3.5, 3, 5, 1.5]}, "legend": null}}},
  {"data": {"name": "pts"}, "transform": [{"filter": "datum.p=='C' && isValid(datum.lo)"}], "mark": {"type": "rule", "strokeWidth": 2},
   "encoding": {"x": {"field": "x", "type": "quantitative"}, "y": {"field": "lo", "type": "quantitative"}, "y2": {"field": "hi"}, "color": {"field": "c", "type": "nominal", "legend": null}}},
  {"data": {"name": "pts"}, "transform": [{"filter": "datum.p=='C' && isValid(datum.lo)"}], "mark": {"type": "tick", "orient": "horizontal", "size": 13, "thickness": 2.5},
   "encoding": {"x": {"field": "x", "type": "quantitative"}, "y": {"field": "lo", "type": "quantitative"}, "color": {"field": "c", "type": "nominal", "legend": null}}},
  {"data": {"name": "pts"}, "transform": [{"filter": "datum.p=='C' && isValid(datum.hi)"}], "mark": {"type": "tick", "orient": "horizontal", "size": 13, "thickness": 2.5},
   "encoding": {"x": {"field": "x", "type": "quantitative"}, "y": {"field": "hi", "type": "quantitative"}, "color": {"field": "c", "type": "nominal", "legend": null}}},
  {"data": {"name": "pts"}, "transform": [{"filter": "datum.p=='C' && datum.c=='43'"}], "mark": {"type": "point", "shape": "triangle-down", "size": 200, "filled": true, "fill": "white", "stroke": "#9a9a9a", "strokeWidth": 2.5, "opacity": 1},
   "encoding": {"x": {"field": "x", "type": "quantitative"}, "y": {"field": "y", "type": "quantitative"}}},
  {"data": {"name": "pts"}, "transform": [{"filter": "datum.p=='C' && datum.c!='43'"}], "mark": {"type": "point", "filled": true, "opacity": 1},
   "encoding": {"x": {"field": "x", "type": "quantitative"}, "y": {"field": "y", "type": "quantitative"}, "color": {"field": "c", "type": "nominal", "legend": null},
    "shape": {"field": "c", "type": "nominal", "scale": {"domain": ["20", "42", "35", "43"], "range": ["square", "triangle-up", "triangle-down", "triangle-down"]}, "legend": null},
    "size": {"field": "c", "type": "ordinal", "scale": {"domain": ["20", "42", "35", "43"], "range": [230, 250, 290, 200]}, "legend": null}}},
  {"data": {"values": [{"t": "C."}]}, "mark": {"type": "text", "align": "left", "baseline": "middle", "fontSize": 26},
   "encoding": {"x": {"datum": -14.5, "type": "quantitative"}, "y": {"datum": 174.4, "type": "quantitative"}, "text": {"field": "t"}}},
  {"data": {"values": [{"t": "AKT3"}]}, "mark": {"type": "text", "align": "center", "baseline": "middle", "fontSize": 24},
   "encoding": {"x": {"datum": -8.747, "type": "quantitative"}, "y": {"datum": 155.9, "type": "quantitative"}, "text": {"field": "t"}}}
 ]},
{"width": 481, "height": 180, "data": {"name": "leg"}, "transform": [{"filter": "datum.p=='C'"}],
 "encoding": {"y": {"field": "c", "type": "nominal", "scale": {"type": "point", "domain": ["20", "42", "35", "43"], "padding": 0.577}, "axis": null}},
 "layer": [
  {"mark": {"type": "rule"}, "encoding": {"x": {"datum": -42, "type": "quantitative", "scale": {"domain": [0, 481], "nice": false, "zero": false}, "axis": null}, "x2": {"datum": -4.5},
    "color": {"field": "c", "type": "nominal", "scale": {"domain": ["20", "42", "35", "43"], "range": ["#1039ff", "#ff40f5", "#00ffff", "#000000"]}, "legend": null},
    "strokeWidth": {"field": "c", "type": "ordinal", "scale": {"domain": ["20", "42", "35", "43"], "range": [3.5, 3, 5, 1.5]}, "legend": null}}},
  {"transform": [{"filter": "datum.c!='43'"}], "mark": {"type": "point", "filled": true, "opacity": 1},
   "encoding": {"x": {"datum": -23, "type": "quantitative"}, "color": {"field": "c", "type": "nominal", "legend": null},
    "shape": {"field": "c", "type": "nominal", "scale": {"domain": ["20", "42", "35", "43"], "range": ["square", "triangle-up", "triangle-down", "triangle-down"]}, "legend": null},
    "size": {"field": "c", "type": "ordinal", "scale": {"domain": ["20", "42", "35", "43"], "range": [200, 220, 250, 180]}, "legend": null}}},
  {"transform": [{"filter": "datum.c=='43'"}], "mark": {"type": "point", "shape": "triangle-down", "size": 180, "filled": true, "fill": "white", "stroke": "#9a9a9a", "strokeWidth": 2.5, "opacity": 1},
   "encoding": {"x": {"datum": -23, "type": "quantitative"}}},
  {"mark": {"type": "text", "align": "left", "baseline": "alphabetic", "dy": 9, "fontSize": 26}, "encoding": {"x": {"datum": 14.5, "type": "quantitative"}, "text": {"field": "n"}}},
  {"mark": {"type": "text", "align": "left", "baseline": "alphabetic", "dy": 9, "fontSize": 26, "fontStyle": "italic", "text": "K"}, "encoding": {"x": {"datum": 58, "type": "quantitative"}}},
  {"mark": {"type": "text", "align": "left", "baseline": "alphabetic", "dy": 19, "fontSize": 18, "text": "d"}, "encoding": {"x": {"datum": 76, "type": "quantitative"}}},
  {"mark": {"type": "text", "align": "left", "baseline": "alphabetic", "dy": 9, "fontSize": 26}, "encoding": {"x": {"datum": 91, "type": "quantitative"}, "text": {"field": "t"}}}
 ]}
], "spacing": 0, "bounds": "flush"}
]
}
